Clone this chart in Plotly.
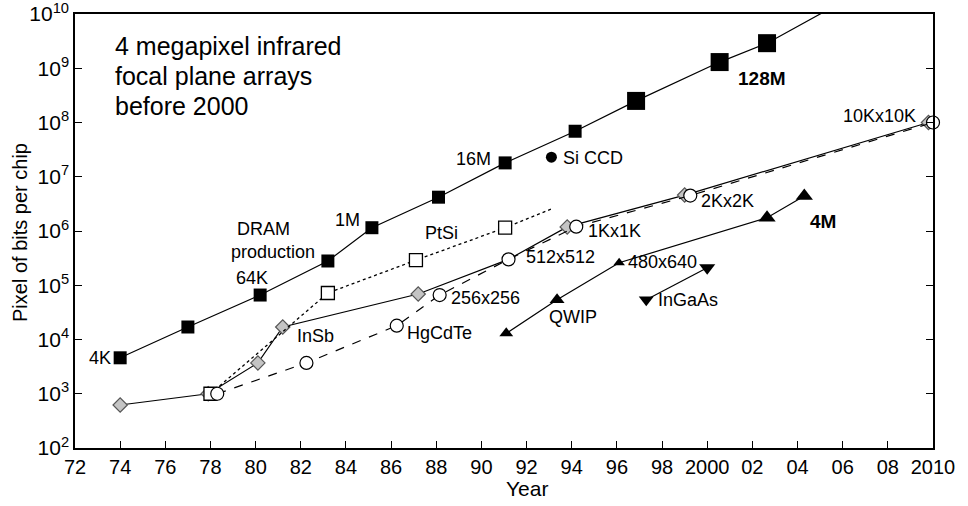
import math
import plotly.graph_objects as go

# ---- data -------------------------------------------------------------
dram_year = [1974.0, 1977.0, 1980.2, 1983.2, 1985.15, 1988.1, 1991.05,
             1994.15, 1996.85, 2000.55, 2002.65, 2005.5]
dram_bits = [4.6e3, 1.7e4, 6.6e4, 2.8e5, 1.15e6, 4.2e6, 1.8e7,
             6.9e7, 2.5e8, 1.3e9, 2.9e9, 1.3e10]

siccd_year = [1993.1]
siccd_bits = [2.3e7]

ptsi_year = [1978.0, 1983.2, 1987.1, 1991.05, 1993.15]
ptsi_pix = [1.0e3, 7.2e4, 2.9e5, 1.15e6, 2.6e6]

insb_year = [1974.0, 1977.9, 1980.1, 1981.2, 1987.2, 1991.2, 1993.8, 1999.0, 2009.8]
insb_pix = [6.2e2, 1.0e3, 3.7e3, 1.7e4, 6.9e4, 3.0e5, 1.19e6, 4.6e6, 1.0e8]

hgcdte_year = [1978.3, 1982.25, 1986.25, 1988.15, 1991.2, 1994.2, 1999.25, 2010.0]
hgcdte_pix = [1.0e3, 3.7e3, 1.8e4, 6.6e4, 3.0e5, 1.2e6, 4.5e6, 1.0e8]

qwip_year = [1991.1, 1993.35, 1996.1, 2002.65, 2004.3]
qwip_pix = [1.3e4, 5.4e4, 2.6e5, 1.75e6, 4.4e6]

ingaas_year = [1997.3, 2000.0]
ingaas_pix = [5.4e4, 2.1e5]

x_ticks = list(range(1972, 2011, 2))
x_tick_text = ["72", "74", "76", "78", "80", "82", "84", "86", "88", "90", "92",
               "94", "96", "98", "2000", "02", "04", "06", "08", "2010"]
y_exponents = [2, 3, 4, 5, 6, 7, 8, 9, 10]

# ---- styles -----------------------------------------------------------
FONT = "Liberation Sans, Arial, sans-serif"
BLACK = "#000000"
GRAY_FILL = "#c4c4c4"
GRAY_EDGE = "#555555"
LW = 1.2

dram_size = [13, 13, 13, 13, 13, 13, 13, 13, 18, 18, 18, 0]
ptsi_size = [13, 13, 13, 13, 0]
insb_size = [11, 11, 11, 11, 11, 0, 11, 11, 11]
qwip_size = [12, 13, 10, 15, 15]
ingaas_size = [13, 14]

fig = go.Figure()

fig.add_trace(go.Scatter(
    x=insb_year, y=insb_pix, mode="lines+markers", cliponaxis=False,
    line=dict(color=BLACK, width=LW),
    marker=dict(symbol="diamond", size=insb_size, color=GRAY_FILL, opacity=1,
                line=dict(color=GRAY_EDGE, width=1.2)),
))
fig.add_trace(go.Scatter(
    x=ptsi_year, y=ptsi_pix, mode="lines+markers",
    line=dict(color=BLACK, width=1.3, dash="dot"),
    marker=dict(symbol="square", size=ptsi_size, color="white", opacity=1,
                line=dict(color=BLACK, width=1.3)),
))
fig.add_trace(go.Scatter(
    x=hgcdte_year, y=hgcdte_pix, mode="lines+markers", cliponaxis=False,
    line=dict(color=BLACK, width=LW, dash="dash"),
    marker=dict(symbol="circle", size=13, color="white", opacity=1,
                line=dict(color=BLACK, width=1.2)),
))
fig.add_trace(go.Scatter(
    x=dram_year, y=dram_bits, mode="lines+markers",
    line=dict(color=BLACK, width=LW),
    marker=dict(symbol="square", size=dram_size, color=BLACK, opacity=1,
                line=dict(width=0)),
))
fig.add_trace(go.Scatter(
    x=siccd_year, y=siccd_bits, mode="markers",
    marker=dict(symbol="circle", size=11, color=BLACK, opacity=1, line=dict(width=0)),
))
fig.add_trace(go.Scatter(
    x=qwip_year, y=qwip_pix, mode="lines+markers",
    line=dict(color=BLACK, width=LW),
    marker=dict(symbol="triangle-up", size=qwip_size, color=BLACK, opacity=1,
                line=dict(width=0)),
))
fig.add_trace(go.Scatter(
    x=ingaas_year, y=ingaas_pix, mode="lines+markers",
    line=dict(color=BLACK, width=LW),
    marker=dict(symbol="triangle-down", size=ingaas_size, color=BLACK, opacity=1,
                line=dict(width=0)),
))

# ---- point labels (annotation y on a log axis is given in decades) -----
def label(x, y, text, xanchor="left", xshift=0, yshift=0, size=18, bold=False):
    if bold:
        text = "<b>" + text + "</b>"
    fig.add_annotation(x=x, y=math.log10(y), xref="x", yref="y", text=text,
                       showarrow=False, xanchor=xanchor, yanchor="middle",
                       xshift=xshift, yshift=yshift,
                       font=dict(family=FONT, size=size, color=BLACK))

label(dram_year[0], dram_bits[0], "4K", "right", -7, 0)
label(dram_year[2], dram_bits[2], "64K", "center", -8, 17)
label(dram_year[3], dram_bits[3], "DRAM", "center", -64, 32)
label(dram_year[3], dram_bits[3], "production", "center", -55, 9)
label(dram_year[4], dram_bits[4], "1M", "right", -10, 8)
label(dram_year[6], dram_bits[6], "16M", "right", -12, 4)
label(dram_year[9], dram_bits[9], "128M", "left", 16, -16, 19, True)
label(siccd_year[0], siccd_bits[0], "Si CCD", "left", 10, -1)
label(ptsi_year[2], ptsi_pix[2], "PtSi", "center", 26, 27)
label(insb_year[3], insb_pix[3], "InSb", "left", 12, -9)
label(hgcdte_year[2], hgcdte_pix[2], "HgCdTe", "left", 8, -7)
label(hgcdte_year[3], hgcdte_pix[3], "256x256", "left", 9, -3)
label(hgcdte_year[4], hgcdte_pix[4], "512x512", "left", 15, 2)
label(hgcdte_year[5], hgcdte_pix[5], "1Kx1K", "left", 10, -4)
label(hgcdte_year[6], hgcdte_pix[6], "2Kx2K", "left", 9, -5)
label(hgcdte_year[7], hgcdte_pix[7], "10Kx10K", "right", -15, 7)
label(qwip_year[1], qwip_pix[1], "QWIP", "center", 16, -17)
label(qwip_year[2], qwip_pix[2], "480x640", "left", 7, 1)
label(qwip_year[4], qwip_pix[4], "4M", "left", 4, -25, 19, True)
label(ingaas_year[0], ingaas_pix[0], "InGaAs", "left", 10, 0)

# ---- heading text in the upper-left corner ----------------------------
heading = ["4 megapixel infrared", "focal plane arrays", "before 2000"]
for i, line in enumerate(heading):
    fig.add_annotation(x=(113 - 75) / 858, y=1 - (46 + 30 * i - 14) / 434,
                       xref="paper", yref="paper", text=line, showarrow=False,
                       xanchor="left", yanchor="middle",
                       font=dict(family=FONT, size=25, color=BLACK))

# ---- axis titles, placed by hand next to the tick labels ---------------
fig.add_annotation(x=(20 - 75) / 858, y=1 - (233 - 14) / 434, xref="paper", yref="paper",
                   text="Pixel of bits per chip", textangle=-90, showarrow=False,
                   xanchor="center", yanchor="middle",
                   font=dict(family=FONT, size=20, color=BLACK))
fig.add_annotation(x=(527 - 75) / 858, y=1 - (488 - 14) / 434, xref="paper", yref="paper",
                   text="Year", showarrow=False, xanchor="center", yanchor="middle",
                   font=dict(family=FONT, size=21, color=BLACK))

fig.update_layout(
    width=968, height=506,
    margin=dict(l=75, r=35, t=14, b=58),
    paper_bgcolor="white", plot_bgcolor="white",
    showlegend=False,
    font=dict(family=FONT, color=BLACK),
)
fig.update_xaxes(
    range=[1972, 2010], tickvals=x_ticks, ticktext=x_tick_text,
    ticks="inside", ticklen=7, tickwidth=1.3, tickcolor=BLACK,
    showline=True, linecolor=BLACK, linewidth=1.5, mirror=True,
    showgrid=False, zeroline=False, ticklabeloverflow="allow", automargin=False,
    tickfont=dict(family=FONT, size=20, color=BLACK),
)
fig.update_yaxes(
    type="log", range=[1.99999, 10.00001],
    tickvals=[10 ** e for e in y_exponents],
    ticktext=["10<sup>%d</sup>" % e for e in y_exponents],
    ticks="inside", ticklen=7, tickwidth=1.3, tickcolor=BLACK,
    showline=True, linecolor=BLACK, linewidth=1.5, mirror="allticks",
    showgrid=False, zeroline=False, ticklabeloverflow="allow", automargin=False,
    tickfont=dict(family=FONT, size=21, color=BLACK),
)

fig.write_html("out.html")
